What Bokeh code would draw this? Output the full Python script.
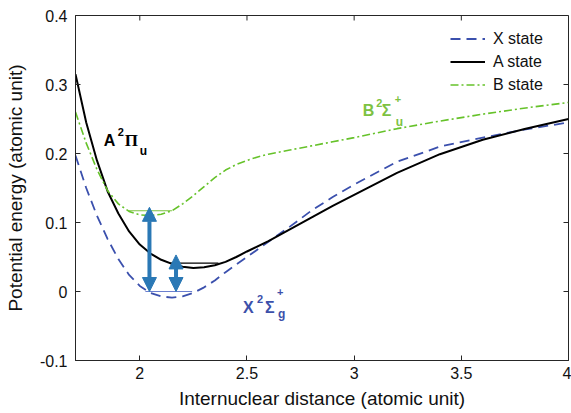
from bokeh.plotting import figure
from bokeh.models import (FixedTicker, Range1d, Legend, LegendItem,
                          Label, Arrow, NormalHead, ColumnDataSource)
from bokeh.embed import file_html
from bokeh.resources import INLINE

# ---------------- data ----------------
x_state_r = [1.70, 1.75, 1.80, 1.85, 1.90, 1.95, 2.00, 2.05, 2.10, 2.15, 2.20, 2.25,
             2.30, 2.35, 2.40, 2.45, 2.50, 2.60, 2.70, 2.80, 2.90, 3.00, 3.20, 3.40,
             3.60, 3.80, 4.00]
x_state_e = [0.197, 0.150, 0.110, 0.076, 0.047, 0.024, 0.008, -0.002, -0.007, -0.009,
             -0.007, -0.002, 0.006, 0.016, 0.028, 0.039, 0.050, 0.072, 0.094, 0.117,
             0.137, 0.155, 0.188, 0.210, 0.223, 0.235, 0.245]

a_state_r = [1.70, 1.75, 1.80, 1.85, 1.90, 1.95, 2.00, 2.05, 2.10, 2.15, 2.20, 2.25,
             2.30, 2.35, 2.40, 2.45, 2.50, 2.60, 2.70, 2.80, 2.90, 3.00, 3.20, 3.40,
             3.60, 3.80, 4.00]
a_state_e = [0.315, 0.245, 0.190, 0.145, 0.113, 0.087, 0.068, 0.055, 0.046, 0.040,
             0.036, 0.034, 0.035, 0.038, 0.043, 0.050, 0.058, 0.073, 0.090, 0.107,
             0.124, 0.140, 0.172, 0.199, 0.220, 0.236, 0.250]

b_state_r = [1.70, 1.75, 1.80, 1.85, 1.90, 1.95, 2.00, 2.05, 2.10, 2.15, 2.20, 2.25,
             2.30, 2.35, 2.40, 2.45, 2.50, 2.55, 2.60, 2.70, 2.80, 2.90, 3.00, 3.20,
             3.40, 3.60, 3.80, 4.00]
b_state_e = [0.260, 0.215, 0.177, 0.146, 0.127, 0.116, 0.111, 0.110, 0.112, 0.117,
             0.127, 0.139, 0.152, 0.165, 0.176, 0.184, 0.190, 0.195, 0.199, 0.205,
             0.211, 0.217, 0.223, 0.236, 0.247, 0.257, 0.266, 0.274]

# vibrational ground levels (start r, end r, energy)
level_r0 = [2.026, 2.142, 1.948]
level_r1 = [2.244, 2.367, 2.150]
level_e = [0.000, 0.041, 0.117]
level_colors = ["#6b7fcf", "#000000", "#7dc242"]

# transition arrows
arrow_r = [2.045, 2.169]
arrow_e0 = [0.000, 0.000]
arrow_e1 = [0.122, 0.053]

x_ticks = [2, 2.5, 3, 3.5, 4]
x_tick_labels = ["2", "2.5", "3", "3.5", "4"]
y_ticks = [-0.1, 0, 0.1, 0.2, 0.3, 0.4]
y_tick_labels = ["-0.1", "0", "0.1", "0.2", "0.3", "0.4"]

series_names = ["X state", "A state", "B state"]

# ---------------- figure ----------------
AX = "#262626"
BLUE = "#3b50ad"
GREEN = "#66c22a"
GREEN_LBL = "#7dc242"
ARROW = "#2a78b5"

X0, X1 = 1.7, 4.0
Y0, Y1 = -0.1, 0.4
W, H = 571, 413
BL, BR, BT, BB = 75, 3, 15, 53

p = figure(width=W, height=H, output_backend="svg", toolbar_location=None,
           x_range=Range1d(X0, X1), y_range=Range1d(Y0, Y1),
           min_border_left=BL, min_border_right=BR, min_border_top=BT,
           min_border_bottom=BB)
p.grid.visible = False
p.outline_line_color = AX
p.outline_line_width = 1
p.background_fill_color = "white"
p.border_fill_color = "white"

font = "Liberation Sans"

def style_axis(ax, labels, ticks):
    ax.ticker = FixedTicker(ticks=ticks)
    ax.major_label_overrides = {t: l for t, l in zip(ticks, labels)}
    ax.minor_tick_line_color = None
    ax.major_tick_in = 5
    ax.major_tick_out = 0
    ax.axis_line_color = AX
    ax.major_tick_line_color = AX
    ax.major_label_text_color = "#111111"
    ax.major_label_text_font = font
    ax.major_label_text_font_size = "16px"

xa = p.xaxis[0]
ya = p.yaxis[0]
style_axis(xa, x_tick_labels, x_ticks)
style_axis(ya, y_tick_labels, y_ticks)
xa.major_label_standoff = 6
ya.major_label_standoff = 8
xa.axis_label = "Internuclear distance (atomic unit)"
ya.axis_label = "Potential energy (atomic unit)"
for a in (xa, ya):
    a.axis_label_text_font = font
    a.axis_label_text_font_size = "19px"
    a.axis_label_text_font_style = "normal"
    a.axis_label_text_color = "#111111"
xa.axis_label_standoff = 6
ya.axis_label_standoff = 11

# inward ticks on the top and right edges of the box (from the tick arrays)
tick_len_px = 5
dy_tick = tick_len_px * (Y1 - Y0) / (H - BT - BB)
dx_tick = tick_len_px * (X1 - X0) / (W - BL - BR)
p.segment(x0=x_ticks, y0=[Y1] * len(x_ticks), x1=x_ticks,
          y1=[Y1 - dy_tick] * len(x_ticks), line_color=AX, line_width=1)
p.segment(x0=[X1] * len(y_ticks), y0=y_ticks, x1=[X1 - dx_tick] * len(y_ticks),
          y1=y_ticks, line_color=AX, line_width=1)

# level lines
p.segment(x0=level_r0, y0=level_e, x1=level_r1, y1=level_e,
          line_color=level_colors, line_width=1.2)

# curves
rx = p.line(x_state_r, x_state_e, line_color=BLUE, line_width=1.8, line_dash="10 6")
ra_ = p.line(a_state_r, a_state_e, line_color="black", line_width=2)
rb = p.line(b_state_r, b_state_e, line_color=GREEN, line_width=1.6, line_dash="8 3 2 3")

# arrows
asrc = ColumnDataSource(dict(x=arrow_r, y0=arrow_e0, y1=arrow_e1))
head = dict(size=14, fill_color=ARROW, line_color=ARROW, line_width=1)
p.add_layout(Arrow(x_start="x", y_start="y0", x_end="x", y_end="y1", source=asrc,
                   line_color=ARROW, line_width=4,
                   start=NormalHead(**head), end=NormalHead(**head)))

# legend
legend = Legend(items=[LegendItem(label=series_names[0], renderers=[rx]),
                       LegendItem(label=series_names[1], renderers=[ra_]),
                       LegendItem(label=series_names[2], renderers=[rb])],
                location="top_right", border_line_color=None,
                background_fill_alpha=0, label_text_font=font,
                label_text_font_size="16px", label_text_color="#111111",
                glyph_width=35, glyph_height=21, label_height=21, label_width=62,
                spacing=2, label_standoff=8, padding=10, margin=13)
p.add_layout(legend)

# state labels
def state_label(x, y, parts, color):
    for text, dx, dy, size, fnt in parts:
        p.add_layout(Label(x=x, y=y, x_offset=dx, y_offset=dy, text=text,
                           text_color=color, text_font=fnt, text_font_size=size,
                           text_font_style="bold", text_baseline="alphabetic",
                           text_align="left"))

serif = "Liberation Serif"
state_label(1.832, 0.219, [("A", 0, 0, "16px", font), ("2", 14, 8, "11px", font),
                           ("\u03a0", 21, 0, "17px", serif), ("u", 36, -11, "12px", font)],
            "black")
state_label(3.040, 0.262, [("B", 0, 0, "16px", font), ("2", 13.5, 8, "11px", font),
                           ("\u03a3", 19, 0, "16px", font), ("+", 32, 12, "11px", font),
                           ("u", 33, -11, "12px", font)],
            GREEN_LBL)
state_label(2.481, -0.0228, [("X", 0, 0, "16px", font), ("2", 14, 8, "11px", font),
                             ("\u03a3", 22, 0, "16px", font), ("+", 34, 15, "11px", font),
                             ("g", 35, -7, "12px", font)],
            "#3c50aa")

open("out.html", "w").write(file_html(p, INLINE))
